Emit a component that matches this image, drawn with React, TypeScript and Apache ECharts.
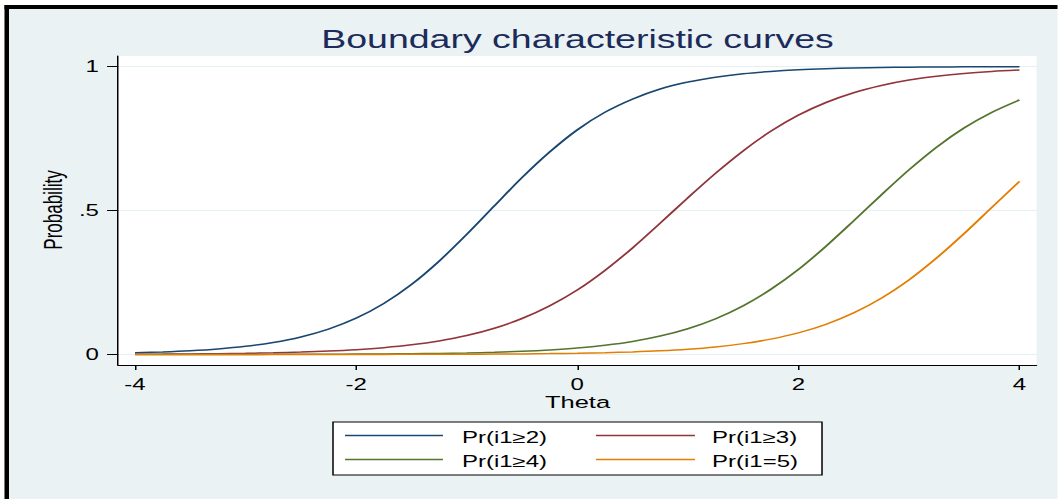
import React, { useEffect, useRef } from "react";
import * as echarts from "echarts";

// Horizontal stretch of the reference picture
const S = 1.5;
const PAGE_W = 1058;
const PAGE_H = 499;
const W = PAGE_W / S;

const FONT = "'Liberation Sans', Arial, Helvetica, sans-serif";

const theta = [
  -4, -3.75, -3.5, -3.25, -3, -2.75, -2.5, -2.25, -2, -1.75, -1.5, -1.25, -1, -0.75, -0.5, -0.25,
  0, 0.25, 0.5, 0.75, 1, 1.25, 1.5, 1.75, 2, 2.25, 2.5, 2.75, 3, 3.25, 3.5, 3.75, 4,
];

const prGe2 = [
  0.0058, 0.0087, 0.0129, 0.0191, 0.0283, 0.0417, 0.0609, 0.0882, 0.126, 0.177, 0.243, 0.324, 0.417,
  0.516, 0.614, 0.703, 0.78, 0.841, 0.887, 0.922, 0.946, 0.963, 0.975, 0.983, 0.9886, 0.9923, 0.9948,
  0.9965, 0.9977, 0.9984, 0.999, 0.9993, 0.9995,
];

const prGe3 = [
  0.001, 0.0014, 0.002, 0.0029, 0.0041, 0.0059, 0.0083, 0.0118, 0.0168, 0.0238, 0.0335, 0.0471, 0.0657,
  0.0911, 0.125, 0.169, 0.224, 0.292, 0.37, 0.456, 0.544, 0.629, 0.707, 0.775, 0.831, 0.875, 0.909,
  0.934, 0.953, 0.966, 0.976, 0.983, 0.988,
];

const prGe4 = [
  0.0001, 0.0001, 0.0001, 0.0002, 0.0003, 0.0004, 0.0006, 0.0009, 0.0013, 0.0018, 0.0026, 0.0038,
  0.0054, 0.0077, 0.011, 0.0158, 0.0225, 0.0321, 0.0454, 0.064, 0.0895, 0.124, 0.169, 0.226, 0.295,
  0.376, 0.464, 0.554, 0.641, 0.72, 0.787, 0.841, 0.884,
];

const prEq5 = [
  0.00001, 0.00002, 0.00003, 0.00004, 0.00006, 0.00008, 0.00011, 0.00017, 0.00024, 0.00035, 0.00049,
  0.0007, 0.001, 0.0015, 0.0021, 0.0031, 0.0044, 0.0063, 0.009, 0.0129, 0.0185, 0.0264, 0.0377, 0.0534,
  0.075, 0.1047, 0.1442, 0.1953, 0.259, 0.335, 0.42, 0.511, 0.601,
];

const seriesNames = ["Pr(i1≥2)", "Pr(i1≥3)", "Pr(i1≥4)", "Pr(i1=5)"];
const seriesValues = [prGe2, prGe3, prGe4, prEq5];
const colors = ["#1a476f", "#90353b", "#55752f", "#e37e00"];

const xTicks = [-4, -2, 0, 2, 4];
const yTicks = [0, 0.5, 1];
const yTickLabels = ["0", ".5", "1"];

const titleText = "Boundary characteristic curves";
const xName = "Theta";
const yName = "Probability";

export default function App() {
  const ref = useRef<HTMLDivElement>(null);

  useEffect(() => {
    if (!ref.current) return;
    const chart = echarts.init(ref.current, undefined, { renderer: "svg" });

    // legend layout (native coordinates)
    const legendBox = { x: 222, y: 422, w: 326, h: 53 };
    const legendCols = [
      { lx1: 230, lx2: 295.3, tx: 308 },
      { lx1: 397.3, lx2: 463.3, tx: 474.7 },
    ];
    const legendRows = [{ ly: 435.5, ty: 438 }, { ly: 459.5, ty: 462 }];

    const legendGraphics: any[] = [
      {
        type: "rect",
        shape: { x: legendBox.x, y: legendBox.y, width: legendBox.w, height: legendBox.h },
        style: { fill: "#ffffff", stroke: "#000000", lineWidth: 1 },
        z: 10,
      },
    ];
    seriesNames.forEach((name, i) => {
      const col = legendCols[i % 2];
      const row = legendRows[Math.floor(i / 2)];
      legendGraphics.push({
        type: "line",
        shape: { x1: col.lx1, y1: row.ly, x2: col.lx2, y2: row.ly },
        style: { stroke: colors[i], lineWidth: 1.4 },
        z: 11,
      });
      legendGraphics.push({
        type: "text",
        x: col.tx,
        y: row.ty,
        style: {
          text: name,
          fill: "#000000",
          font: `16px ${FONT}`,
          textAlign: "left",
          textVerticalAlign: "middle",
        },
        z: 11,
      });
    });

    chart.setOption({
      animation: false,
      backgroundColor: "transparent",
      textStyle: { fontFamily: FONT },
      grid: {
        left: 78.67,
        right: 14,
        top: 56,
        bottom: 134,
        show: true,
        backgroundColor: "#ffffff",
        borderWidth: 0,
      },
      xAxis: {
        type: "value",
        min: -4.154,
        max: 4.154,
        axisLine: { show: true, onZero: false, lineStyle: { color: "#000000", width: 1 } },
        axisTick: {
          show: true,
          length: 5,
          customValues: xTicks,
          lineStyle: { color: "#000000", width: 1 },
        },
        axisLabel: {
          customValues: xTicks,
          formatter: (v: number) => String(v),
          color: "#000000",
          fontSize: 16,
          fontFamily: FONT,
          margin: 12,
        },
        splitLine: { show: false },
      },
      yAxis: {
        type: "value",
        min: -0.0365,
        max: 1.0365,
        axisLine: { show: true, onZero: false, lineStyle: { color: "#000000", width: 1 } },
        axisTick: {
          show: true,
          length: 7.3,
          customValues: yTicks,
          lineStyle: { color: "#000000", width: 1 },
        },
        axisLabel: {
          customValues: yTicks,
          formatter: (v: number) => {
            const idx = yTicks.findIndex((t) => Math.abs(t - v) < 1e-9);
            return idx >= 0 ? yTickLabels[idx] : "";
          },
          color: "#000000",
          fontSize: 16,
          fontFamily: FONT,
          margin: 12.7,
        },
        splitLine: { show: true, lineStyle: { color: "#e6eff1", width: 1 } },
      },
      series: seriesNames.map((name, i) => ({
        name,
        type: "line",
        data: theta.map((t, j) => [t, seriesValues[i][j]]),
        showSymbol: false,
        symbol: "none",
        smooth: 0.3,
        lineStyle: { color: colors[i], width: 1.5 },
        itemStyle: { color: colors[i] },
      })),
      graphic: [
        {
          type: "text",
          x: 385,
          y: 39,
          style: {
            text: titleText,
            fill: "#1c2b5a",
            font: `25px ${FONT}`,
            textAlign: "center",
            textVerticalAlign: "middle",
          },
        },
        {
          type: "text",
          x: 385,
          y: 402,
          style: {
            text: xName,
            fill: "#000000",
            font: `17px ${FONT}`,
            textAlign: "center",
            textVerticalAlign: "middle",
          },
        },
        {
          type: "text",
          x: 35.3,
          y: 210,
          rotation: Math.PI / 2,
          style: {
            text: yName,
            fill: "#000000",
            font: `17px ${FONT}`,
            textAlign: "center",
            textVerticalAlign: "middle",
          },
        },
        ...legendGraphics,
      ],
    });

    return () => {
      chart.dispose();
    };
  }, []);

  return (
    <div
      style={{
        position: "fixed",
        left: 0,
        top: 0,
        width: W,
        height: PAGE_H,
        background: "#ffffff",
        transform: `scaleX(${S})`,
        transformOrigin: "0 0",
        overflow: "hidden",
      }}
    >
      <div
        style={{
          position: "absolute",
          left: 5 / S,
          top: 5,
          width: W + 20,
          height: PAGE_H + 20,
          boxSizing: "border-box",
          background: "#EAF2F3",
          borderTop: "4px solid #000000",
          borderLeft: `${5 / S}px solid #000000`,
        }}
      />
      <div ref={ref} style={{ position: "absolute", left: 0, top: 0, width: W, height: PAGE_H }} />
    </div>
  );
}
